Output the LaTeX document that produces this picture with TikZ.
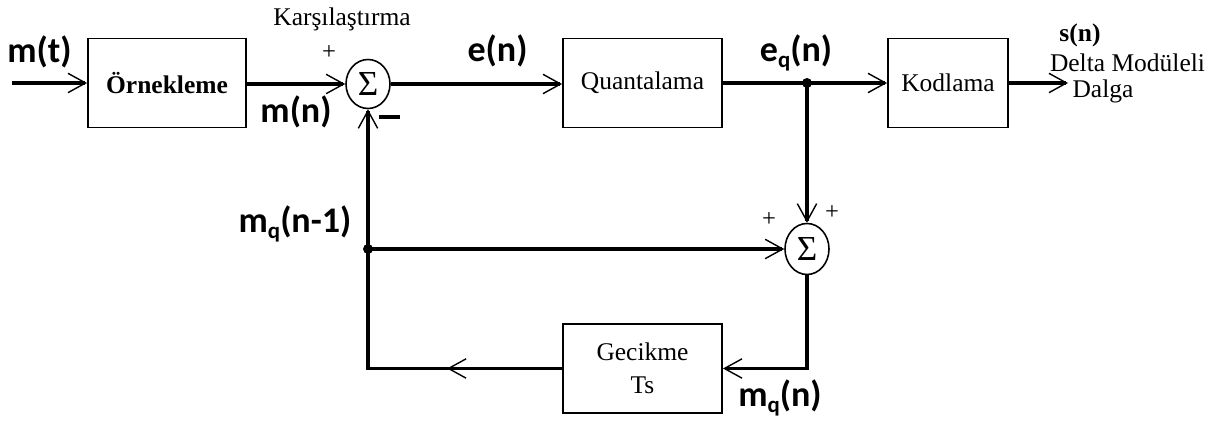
\documentclass[tikz,border=0pt]{standalone}
\usepackage{fontspec}
\setmainfont{Liberation Serif}
\newfontfamily\lblfont{Carlito}
\usepackage{tikz}
\usetikzlibrary{arrows.meta,positioning,calc,shapes.geometric,decorations.markings}

\newcommand{\subq}{\raisebox{-0.3ex}{\fontsize{13}{13}\selectfont q}}

\begin{document}
\begin{tikzpicture}[
    blk/.style={draw, line width=1.1pt, minimum height=1.78cm, inner sep=0pt,
      font=\fontsize{14.5}{17}\selectfont},
    sumnode/.style={ellipse, draw, line width=0.9pt, minimum width=0.88cm,
      minimum height=0.98cm, inner sep=0pt, font=\fontsize{20}{20}\selectfont},
    conn/.style={line width=2.1pt},
    tip/.style={-{Straight Barb[length=10pt,width=11pt,line width=0.8pt]}},
    arr/.style={conn, tip},
    midarr/.style={postaction={decorate}, decoration={markings,
      mark=at position 2.3cm with {\arrow{Straight Barb[length=10pt,width=11pt,line width=0.8pt]}}}},
    lbl/.style={font=\lblfont\bfseries\fontsize{20.5}{22}\selectfont, inner sep=0pt},
    txt/.style={font=\fontsize{14.5}{17}\selectfont, inner sep=0pt},
    sgn/.style={font=\fontsize{14}{14}\selectfont, inner sep=0pt},
    pt/.style={circle, fill, inner sep=0pt, minimum size=0.2cm}]
  \useasboundingbox (0,0) rectangle (24.36,-8.5);
  \coordinate (in) at (0.24,-1.66);
  \node[blk, minimum width=3.16cm, font=\bfseries\fontsize{14.5}{17}\selectfont] (samp) at (3.34,-1.66) {Örnekleme};
  \node[sumnode] (cmp) at (7.36,-1.68) {Σ};
  \node[blk, minimum width=3.18cm] (quant) at (12.85,-1.66) {Quantalama};
  \node[blk, minimum width=2.4cm] (code) at (18.96,-1.66) {Kodlama};
  \coordinate (out) at (21.36,-1.66);
  \node[sumnode, minimum height=1.02cm] (qsum) at (16.14,-4.98) {Σ};
  \coordinate (split) at (quant.east -| qsum);
  \node[blk, minimum width=3.18cm, align=center] (delay) at (12.85,-7.37) {Gecikme\\[2pt]Ts};
  \coordinate (lcorner) at (cmp.south |- delay.west);
  \coordinate (fb) at (cmp.south |- qsum);

  \draw[arr] (in) -- (samp);
  \draw[arr] (samp.east |- cmp) -- (cmp);
  \draw[arr] (cmp) -- (quant.west |- cmp);
  \draw[conn] (quant) -- (split);
  \draw[arr] (split) -- (code);
  \draw[arr] (code) -- (out);
  \draw[arr] (split) -- (qsum);
  \draw[arr] (qsum) |- (delay);
  \draw[arr, midarr] (delay.west) -- (lcorner) -- (cmp.south);
  \draw[arr] (fb) -- (qsum);
  \foreach \p in {split,fb} \node[pt] at (\p) {};

  \node[lbl, anchor=base west] at (0.14,-1.26) {m(t)};
  \node[txt, anchor=base] at (6.84,-0.52) {Karşılaştırma};
  \node[sgn] at (6.58,-1.06) {+};
  \node[lbl, anchor=base] at (5.92,-2.46) {m(n)};
  \node[inner sep=0pt] (minus) at (7.78,-2.34) {\rule{0.42cm}{0.08cm}};
  \node[lbl, anchor=base] at (9.95,-1.24) {e(n)};
  \node[lbl, anchor=base] at (15.92,-1.24) {e\subq(n)};
  \node[txt, anchor=base, font=\bfseries\fontsize{14.5}{17}\selectfont] at (21.6,-0.84) {s(n)};
  \node[txt, anchor=base] at (22.55,-1.44) {Delta Modüleli};
  \node[txt, anchor=base] at (22.06,-1.96) {Dalga};
  \node[lbl, anchor=base] at (5.9,-4.66) {m\subq(n-1)};
  \node[sgn] at (15.38,-4.4) {+};
  \node[sgn] at (16.64,-4.26) {+};
  \node[lbl, anchor=base] at (15.6,-8.14) {m\subq(n)};
\end{tikzpicture}
\end{document}
